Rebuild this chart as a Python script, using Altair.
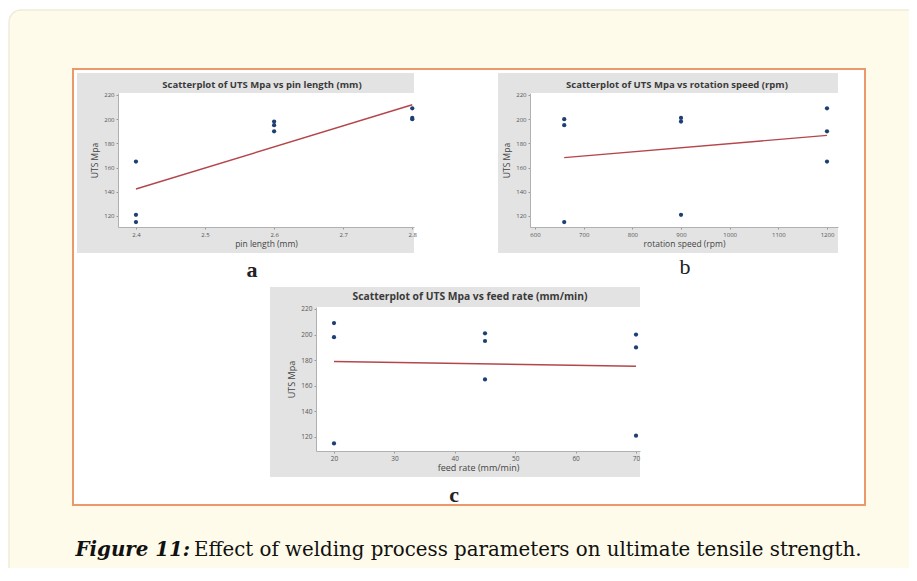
import altair as alt
import pandas as pd

# ---------------- data (9 welding runs) ----------------
pin_length = [2.4, 2.4, 2.4, 2.6, 2.6, 2.6, 2.8, 2.8, 2.8]
rotation_speed = [660, 900, 1200, 900, 660, 1200, 1200, 900, 660]
feed_rate = [20, 70, 45, 20, 45, 70, 20, 45, 70]
uts_mpa = [115, 121, 165, 198, 195, 190, 209, 201, 200]

y_ticks = [120, 140, 160, 180, 200, 220]
pin_ticks = [2.4, 2.5, 2.6, 2.7, 2.8]
speed_ticks = [600, 700, 800, 900, 1000, 1100, 1200]
feed_ticks = [20, 30, 40, 50, 60, 70]

panel_titles = [
    "Scatterplot of UTS Mpa vs pin length (mm)",
    "Scatterplot of UTS Mpa vs rotation speed (rpm)",
    "Scatterplot of UTS Mpa vs feed rate (mm/min)",
]
x_titles = ["pin length (mm)", "rotation speed (rpm)", "feed rate (mm/min)"]
y_title = "UTS Mpa"
letters = ["a", "b", "c"]
caption_bold = "Figure 11:"
caption_text = "Effect of welding process parameters on ultimate tensile strength."

df = pd.DataFrame({"pin": pin_length, "speed": rotation_speed,
                   "feed": feed_rate, "uts": uts_mpa})
one = pd.DataFrame({"k": [0]})

W, H = 901, 560
BLUE = "#1d3f72"
RED = "#b4464b"
GRAY = "#e3e3e3"
FONT = "Open Sans"


def box(x0, x1, y0, y1, fill, stroke=None, sw=0, r=0):
    kw = dict(fill=fill, cornerRadius=r)
    if stroke:
        kw.update(stroke=stroke, strokeWidth=sw)
    else:
        kw.update(strokeWidth=0)
    return alt.Chart(one).mark_rect(**kw).encode(
        x=alt.value(x0), x2=alt.value(x1), y=alt.value(y0), y2=alt.value(y1))


def label(text, x, y, size, weight="normal", font=FONT, color="#333",
          align="center", style="normal"):
    return alt.Chart(one).mark_text(
        text=text, font=font, fontSize=size, fontWeight=weight, color=color,
        align=align, baseline="middle", fontStyle=style
    ).encode(x=alt.value(x), y=alt.value(y))


def panel(field, ticks, fmt, xdom, xrng, ydom, yrng, xoff, yoff, ext,
          xtitle, lab, ttl):
    common = dict(zindex=1, grid=False, labelFont=FONT, labelFontSize=lab,
                  labelColor="#555", titleFont=FONT, titleFontSize=ttl,
                  titleColor="#444", titleFontWeight="normal",
                  domainColor="#b0b0b0", tickColor="#999", tickSize=2,
                  labelPadding=2, labelOverlap=False, labelFlush=False)
    x = alt.X(f"{field}:Q",
              scale=alt.Scale(domain=xdom, range=xrng, nice=False, zero=False),
              axis=alt.Axis(orient="bottom", offset=xoff, values=ticks,
                            format=fmt, title=xtitle, titlePadding=2, **common))
    y = alt.Y("uts:Q",
              scale=alt.Scale(domain=ydom, range=yrng, nice=False, zero=False),
              axis=alt.Axis(orient="left", offset=yoff, values=y_ticks,
                            format="d", title=y_title, titlePadding=4, **common))
    line = alt.Chart(df).transform_regression(field, "uts", extent=ext).mark_line(
        color=RED, strokeWidth=1.4).encode(x=x, y=y)
    pts = alt.Chart(df).mark_circle(size=18, color=BLUE, opacity=1).encode(x=x, y=y)
    return alt.layer(line, pts)


bg = [
    box(1, 960, 2, 620, "#fefbea", "#efebdc", 1.5, 12),
    box(65, 857, 61, 497, "white", "#e9996a", 2),
    box(69, 406, 65, 245, GRAY),
    box(110, 406, 85, 219, "white"),
    box(490, 830, 65, 245, GRAY),
    box(522, 830, 85, 219, "white"),
    box(262, 632, 279, 469, GRAY),
    box(308, 632, 299, 443, "white"),
]

pa = panel("pin", pin_ticks, ".1f", [2.374, 2.8025], [110, 406],
           [110.9, 221.65], [219, 85], 219 - H, -110, [2.4, 2.8],
           x_titles[0], 6, 8.5)
pb = panel("speed", speed_ticks, "d", [589.7, 1222.6], [522, 830],
           [110.9, 221.65], [219, 85], 219 - H, -522, [660, 1200],
           x_titles[1], 6, 8.5)
pc = panel("feed", feed_ticks, "d", [17.02, 70.66], [308, 632],
           [109.06, 221.56], [443, 299], 443 - H, -308, [20, 70],
           x_titles[2], 6.5, 9)

texts = [
    label(panel_titles[0], 254, 77, 9.5, "bold", color="#3a3a3a"),
    label(panel_titles[1], 669, 77, 9.5, "bold", color="#3a3a3a"),
    label(panel_titles[2], 462, 289, 10.3, "bold", color="#3a3a3a"),
    label(letters[0], 244, 262, 22, "bold", font="Liberation Serif", color="#222"),
    label(letters[1], 677, 259, 22, font="Liberation Serif", color="#222"),
    label(letters[2], 446, 487, 22, "bold", font="Liberation Serif", color="#222"),
    label(caption_bold, 182, 542, 19.8, "bold", font="DejaVu Serif",
          color="#111", align="right", style="italic"),
    label(caption_text, 186, 542, 19.8, font="DejaVu Serif",
          color="#111", align="left"),
]

chart = alt.layer(*bg, pa, pb, pc, *texts).resolve_scale(
    x="independent", y="independent"
).properties(
    width=W, height=H, padding=0,
    autosize=alt.AutoSizeParams(type="none"), background="white"
).configure_view(stroke=None)

chart.save("out.html", embed_options={"renderer": "svg", "actions": False})
